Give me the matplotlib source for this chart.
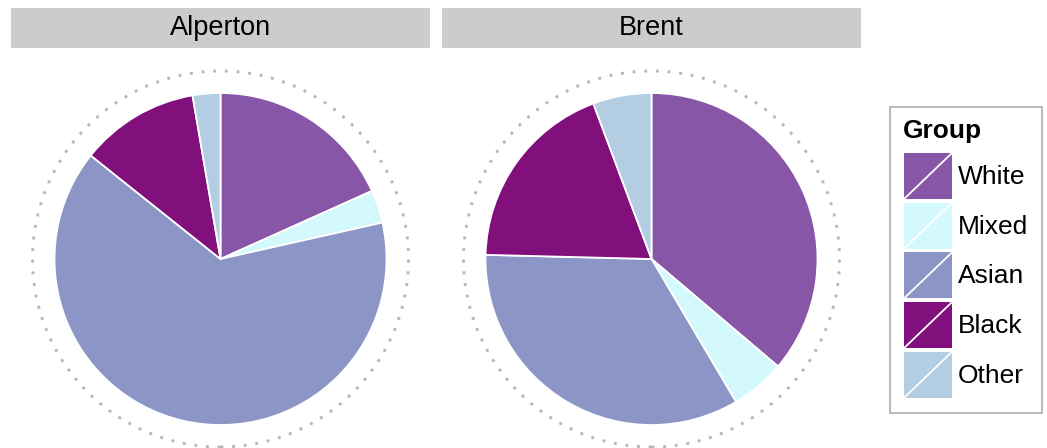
import matplotlib
matplotlib.use("Agg")
import matplotlib.pyplot as plt
from matplotlib.patches import Rectangle, Circle

plt.rcParams['font.family'] = ['Liberation Sans', 'DejaVu Sans']

# data (percent of population)
groups = ["White", "Mixed", "Asian", "Black", "Other"]
areas = ["Alperton", "Brent"]
alperton = [18.3, 3.2, 64.3, 11.6, 2.7]
brent = [36.2, 5.3, 33.9, 18.9, 5.7]
colours = ["#8856a7", "#d4f9fc", "#8c96c6", "#810f7c", "#b3cde3"]

W, H = 1047, 448
fig = plt.figure(figsize=(W / 100, H / 100), dpi=100)
ax = fig.add_axes([0, 0, 1, 1])

# panels: left edge of strip, width
panels = [(11, 419), (442, 419)]
pie_cy = H - 259
pie_r = 166

for (x0, w), name, vals in zip(panels, areas, [alperton, brent]):
    # strip
    ax.add_patch(Rectangle((x0, H - 48), w, 40, facecolor="#cccccc",
                           edgecolor="none"))
    ax.text(x0 + w / 2, H - 28, name, ha="center", va="center",
            fontsize=19.5, color="black")
    cx = x0 + w / 2
    ax.pie(vals, colors=colours, startangle=90, counterclock=False,
           center=(cx, pie_cy), radius=pie_r,
           wedgeprops=dict(edgecolor="white", linewidth=1.3))
    ax.add_patch(Circle((cx, pie_cy), 188, fill=False, edgecolor="#b8b8b8",
                        linewidth=2.1, linestyle=(0, (1, 3))))

# legend
ax.add_patch(Rectangle((890, H - 413), 152, 306, facecolor="white",
                       edgecolor="#bbbbbb", linewidth=1.5))
ax.text(903, H - 131, "Group", ha="left", va="center", fontsize=19,
        fontweight="bold")
for i, (g, c) in enumerate(zip(groups, colours)):
    top = 153 + i * 49.7
    ax.add_patch(Rectangle((904, H - top - 46), 48, 46, facecolor=c,
                           edgecolor="none"))
    ax.plot([904, 952], [H - top - 46, H - top], color="white", lw=1.3)
    ax.text(958, H - top - 24, g, ha="left", va="center", fontsize=19)

ax.set_xlim(0, W)
ax.set_ylim(0, H)
ax.set_aspect("auto")
ax.axis("off")

fig.savefig("out.png", dpi=100)
